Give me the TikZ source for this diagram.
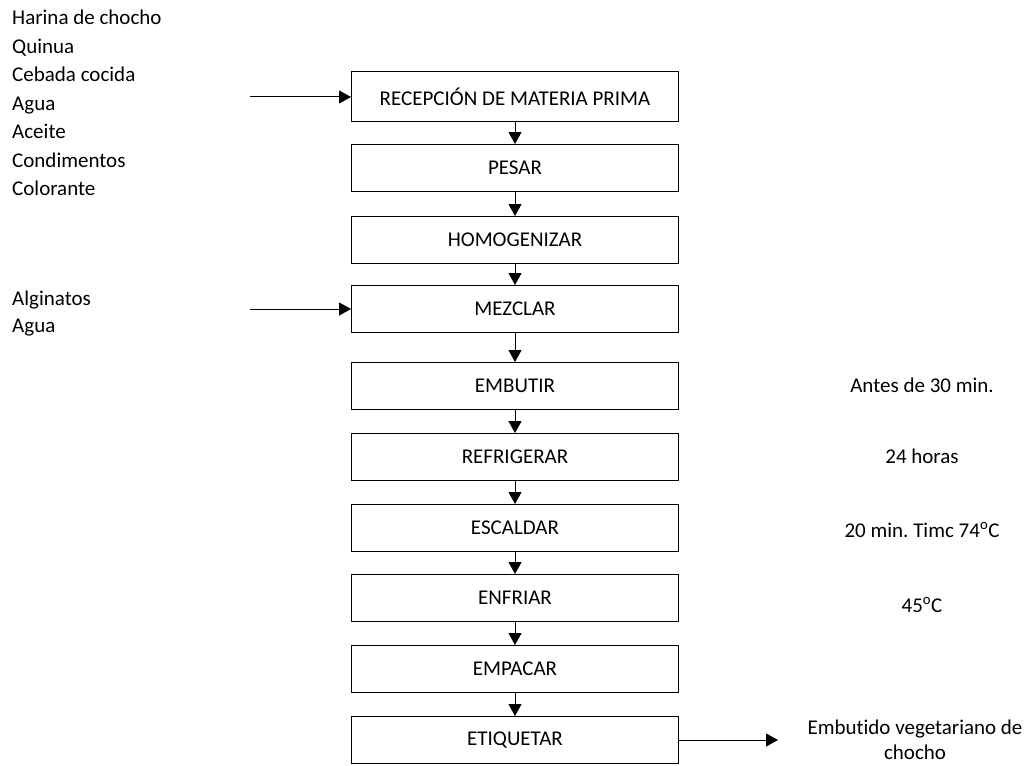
\documentclass[tikz,border=0pt]{standalone}
\usepackage{fontspec}
\setmainfont{Carlito}[Ligatures=NoCommon]
\usetikzlibrary{arrows.meta}

\begin{document}
\frenchspacing
\begin{tikzpicture}[x=1pt, y=-1pt,
    every node/.style={font=\fontsize{21}{28.5}\selectfont},
    box/.style={draw, line width=1pt, minimum width=327pt, minimum height=47pt, inner sep=0pt},
    flow/.style={-{Triangle[width=13pt,length=12pt]}, line width=1pt}]
    \useasboundingbox (0,0) rectangle (1035,765);

            \node[box, minimum height=50pt] (p1) at (515, 97) {RECEPCIÓN DE MATERIA PRIMA};
            \node[box] (p2) at (515, 168) {PESAR};
            \node[box] (p3) at (515, 240) {HOMOGENIZAR};
            \node[box] (p4) at (515, 309) {MEZCLAR};
            \node[box] (p5) at (515, 386) {EMBUTIR};
            \node[box] (p6) at (515, 457) {REFRIGERAR};
            \node[box] (p7) at (515, 528) {ESCALDAR};
            \node[box] (p8) at (515, 598) {ENFRIAR};
            \node[box] (p9) at (515, 669) {EMPACAR};
            \node[box] (p10) at (515, 740) {ETIQUETAR};

            \node[align=left, anchor=north west, inner sep=0pt] (ing) at (12, 10)
                {Harina de chocho\\Quinua\\Cebada cocida\\Agua\\Aceite\\Condimentos\\Colorante};
            \node[align=left, anchor=north west, inner sep=0pt,
                font=\fontsize{21}{27}\selectfont] (alg) at (12, 291) {Alginatos\\Agua};

            \node (t5) at (922, 385) {Antes de 30 min.};
            \node (t6) at (922, 456) {24 horas};
            \node (t7) at (922, 530) {20 min. Timc 74\textsuperscript{o}C};
            \node (t8) at (922, 605) {45\textsuperscript{o}C};
            \node[align=center, font=\fontsize{21}{25}\selectfont] (out) at (915, 740)
                {Embut{}ido vegetariano de\\chocho};

            \coordinate (in1) at (250, 97);
            \coordinate (in4) at (250, 309);
            \coordinate (end) at (778, 740);

            \draw[flow] (in1) -- (p1);
            \draw[flow] (in4) -- (p4);
            \draw[flow] (p1) -- (p2);
            \draw[flow] (p2) -- (p3);
            \draw[flow] (p3) -- (p4);
            \draw[flow] (p4) -- (p5);
            \draw[flow] (p5) -- (p6);
            \draw[flow] (p6) -- (p7);
            \draw[flow] (p7) -- (p8);
            \draw[flow] (p8) -- (p9);
            \draw[flow] (p9) -- (p10);
            \draw[flow] (p10) -- (end);
\end{tikzpicture}
\end{document}
